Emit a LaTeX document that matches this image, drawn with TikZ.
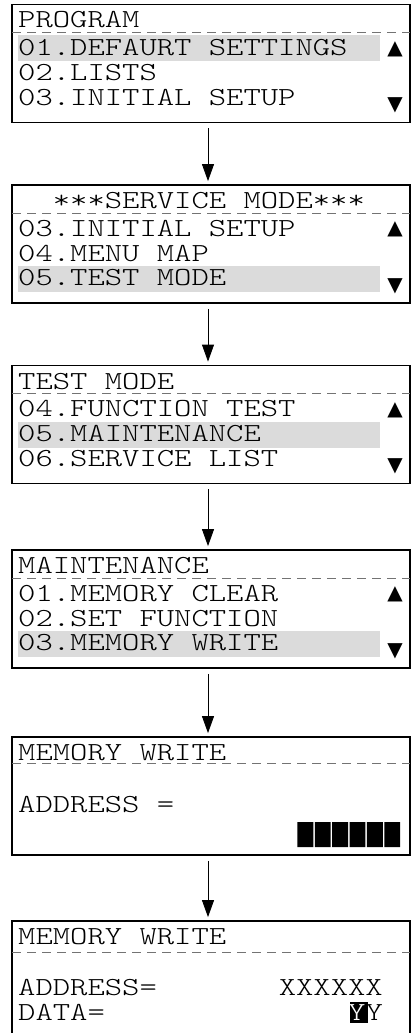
\documentclass[tikz,border=0pt]{standalone}
\usepackage{fontspec}
\setmonofont[FakeStretch=1.27]{lmmonolt10-regular.otf}
\newfontfamily\symfont{DejaVu Sans}
\usepackage{tikz}
\usetikzlibrary{arrows.meta,calc}

\newcommand{\lcdfont}{\fontsize{26}{26}\selectfont\ttfamily}

\tikzset{
  panel/.style={draw,line width=1.8pt,minimum width=398pt,minimum height=118pt,inner sep=0pt},
  lcd/.style={anchor=base west,inner sep=0pt,font=\lcdfont},
  hilite/.style={fill=black!14},
  sep/.style={draw=black!55,line width=0.8pt,dash pattern=on 9pt off 6pt},
  flow/.style={-{Triangle[length=17pt,width=12pt]},line width=0.8pt,shorten <=5pt,shorten >=3pt},
  updown/.style={inner sep=0pt,font=\symfont\fontsize{20}{20}\selectfont}
}

\begin{document}
\begin{tikzpicture}[x=1pt,y=-1pt]

      \useasboundingbox (0,0) rectangle (415,1033);

      \fill[hilite] (18,35.5)  rectangle (380,61.5);
      \fill[hilite] (18,265.5) rectangle (380,291.5);
      \fill[hilite] (18,421.5) rectangle (380,447.5);
      \fill[hilite] (18,630.5) rectangle (380,656.5);

      \path (211,63.5) node[panel] (p1) {};
      \path (211,244)  node[panel] (p2) {};
      \path (211,424.5) node[panel] (p3) {};
      \path (211,609)  node[panel] (p4) {};
      \path (211,796)  node[panel] (p5) {};
      \path (211,980)  node[panel] (p6) {};

      \draw[sep] (12,32)    -- (410,32);
      \draw[sep] (12,213)   -- (410,213);
      \draw[sep] (12,393.5) -- (410,393.5);
      \draw[sep] (12,578)   -- (410,578);
      \draw[sep] (12,763)   -- (410,763);
      \draw[sep] (12,952)   -- (410,952);

      \path (18,28)    node[lcd] (t1) {PROGRAM};
      \path (18,55.5)  node[lcd] (a1) {01.DEFAURT SETTINGS};
      \path (18,80.5)  node[lcd] (b1) {02.LISTS};
      \path (18,105)   node[lcd] (c1) {03.INITIAL SETUP};
      \path (395,49)   node[updown] (u1) {▲};
      \path (395,105.5) node[updown] (d1) {▼};

      \path (52.7,208.5) node[lcd] (t2) {***SERVICE MODE***};
      \path (18,236)   node[lcd] (a2) {03.INITIAL SETUP};
      \path (18,261)   node[lcd] (b2) {04.MENU MAP};
      \path (18,285.5) node[lcd] (c2) {05.TEST MODE};
      \path (395,229.5) node[updown] (u2) {▲};
      \path (395,286)  node[updown] (d2) {▼};

      \path (18,389)   node[lcd] (t3) {TEST MODE};
      \path (18,416.5) node[lcd] (a3) {04.FUNCTION TEST};
      \path (18,441.5) node[lcd] (b3) {05.MAINTENANCE};
      \path (18,466)   node[lcd] (c3) {06.SERVICE LIST};
      \path (395,410)  node[updown] (u3) {▲};
      \path (395,466.5) node[updown] (d3) {▼};

      \path (18,573.5) node[lcd] (t4) {MAINTENANCE};
      \path (18,601)   node[lcd] (a4) {01.MEMORY CLEAR};
      \path (18,626)   node[lcd] (b4) {02.SET FUNCTION};
      \path (18,650.5) node[lcd] (c4) {03.MEMORY WRITE};
      \path (395,594.5) node[updown] (u4) {▲};
      \path (395,651)  node[updown] (d4) {▼};

      \path (18,760.5) node[lcd] (t5) {MEMORY WRITE};
      \path (18,812)   node[lcd] (b5) {ADDRESS =};
      \fill (297.4,822) rectangle (313.3,847) (314.8,822) rectangle (330.7,847)
            (332.2,822) rectangle (348.1,847) (349.5,822) rectangle (365.4,847)
            (366.9,822) rectangle (382.8,847) (384.3,822) rectangle (400.2,847);

      \path (18,944.5) node[lcd] (t6) {MEMORY WRITE};
      \path (18,995)   node[lcd] (b6) {ADDRESS=};
      \path (278.6,995) node[lcd] (x6) {XXXXXX};
      \path (18,1020)  node[lcd] (c6) {DATA=};
      \fill (349.5,1002) rectangle (367.5,1023);
      \path (348,1020) node[lcd] (y6) {\textcolor{white}{Y}Y};

      \draw[flow] ([xshift=-3pt]p1.south) -- ([xshift=-3pt]p2.north);
      \draw[flow] ([xshift=-3pt]p2.south) -- ([xshift=-3pt]p3.north);
      \draw[flow] ([xshift=-3pt]p3.south) -- ([xshift=-3pt]p4.north);
      \draw[flow] ([xshift=-3pt]p4.south) -- ([xshift=-3pt]p5.north);
      \draw[flow] ([xshift=-3pt]p5.south) -- ([xshift=-3pt]p6.north);

    \end{tikzpicture}
\end{document}
